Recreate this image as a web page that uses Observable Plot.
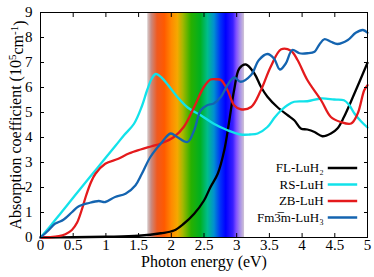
<!DOCTYPE html>
<html><head><meta charset="utf-8">
<script src="https://cdn.jsdelivr.net/npm/d3@7"></script>
<script src="https://cdn.jsdelivr.net/npm/@observablehq/plot@0.6"></script>
<style>
html,body{margin:0;padding:0;background:#fff;}
#chart svg, #chart svg text { font-family: "Liberation Serif", "DejaVu Serif", serif !important; }
</style>
</head><body><div id="chart"></div>
<script>
// ---- data ----
const seriesNames = ["FL-LuH\u2082", "RS-LuH", "ZB-LuH", "Fm3\u0305m-LuH\u2083"];
const seriesColors = ["#000000", "#12e2ea", "#e41a1c", "#1464b0"];

const flE = [0, 0.5, 1.0, 1.5, 1.84, 2.04, 2.19, 2.35, 2.50, 2.60, 2.71, 2.81, 2.88, 2.96, 3.04, 3.14, 3.27, 3.37, 3.47, 3.62, 3.78, 3.88, 3.98, 4.08, 4.19, 4.31, 4.44, 4.54, 4.64, 4.80, 5.0];
const flA = [0, 0.01, 0.03, 0.07, 0.17, 0.28, 0.55, 0.95, 1.48, 2.02, 2.55, 3.49, 4.56, 5.89, 6.76, 6.92, 6.56, 6.03, 5.63, 5.22, 4.89, 4.69, 4.36, 4.32, 4.22, 4.05, 4.16, 4.36, 4.82, 5.76, 6.99];

const rsE = [0, 0.1, 0.2, 0.3, 0.41, 0.61, 0.8, 0.99, 1.15, 1.28, 1.43, 1.55, 1.63, 1.70, 1.76, 1.85, 1.95, 2.09, 2.25, 2.45, 2.65, 2.86, 3.06, 3.2, 3.32, 3.47, 3.58, 3.68, 3.78, 3.88, 4.08, 4.29, 4.49, 4.64, 4.72, 4.80, 4.9, 5.0];
const rsA = [0, 0.3, 0.62, 0.94, 1.3, 1.95, 2.56, 3.17, 3.68, 4.1, 4.55, 5.25, 5.89, 6.35, 6.54, 6.4, 6.1, 5.63, 5.2, 4.89, 4.55, 4.29, 4.12, 4.12, 4.16, 4.42, 4.8, 5.09, 5.3, 5.43, 5.45, 5.56, 5.52, 5.49, 5.3, 4.96, 4.65, 4.40];

const zbE = [0, 0.15, 0.28, 0.38, 0.48, 0.56, 0.63, 0.70, 0.77, 0.84, 0.99, 1.19, 1.35, 1.53, 1.70, 1.84, 2.04, 2.19, 2.35, 2.50, 2.60, 2.68, 2.76, 2.86, 2.96, 3.06, 3.22, 3.37, 3.52, 3.68, 3.83, 3.93, 4.08, 4.29, 4.44, 4.59, 4.75, 4.85, 4.95, 5.0];
const zbA = [0, 0.01, 0.05, 0.13, 0.3, 0.6, 1.1, 1.7, 2.2, 2.55, 2.95, 3.15, 3.36, 3.52, 3.65, 3.76, 4.02, 4.42, 5.22, 6.03, 6.32, 6.33, 6.30, 5.89, 5.29, 5.13, 5.22, 5.89, 6.83, 7.53, 7.47, 7.10, 6.30, 5.49, 4.82, 4.62, 4.56, 4.96, 5.89, 6.09];

const fmE = [0, 0.12, 0.22, 0.28, 0.35, 0.48, 0.58, 0.74, 0.89, 0.99, 1.14, 1.30, 1.45, 1.55, 1.68, 1.84, 1.99, 2.09, 2.25, 2.35, 2.45, 2.55, 2.65, 2.76, 2.86, 2.96, 3.06, 3.22, 3.34, 3.47, 3.57, 3.66, 3.75, 3.85, 3.96, 4.08, 4.19, 4.26, 4.34, 4.44, 4.54, 4.70, 4.82, 4.93, 5.0];
const fmA = [0, 0.28, 0.55, 0.62, 0.71, 1.01, 1.24, 1.38, 1.46, 1.42, 1.62, 1.75, 2.08, 2.55, 3.22, 3.76, 4.16, 4.02, 3.82, 4.29, 5.09, 5.29, 5.36, 5.63, 6.1, 6.40, 6.23, 6.5, 7.10, 7.34, 7.16, 6.72, 6.96, 7.50, 7.37, 7.37, 7.43, 7.70, 7.93, 7.83, 7.74, 7.90, 8.19, 8.30, 8.19];

const xTicks = [0, 0.5, 1, 1.5, 2, 2.5, 3, 3.5, 4, 4.5, 5];
const yTicks = [0, 1, 2, 3, 4, 5, 6, 7, 8, 9];

// visible-spectrum band
const bandE = [1.64, 1.70, 1.79, 1.90, 2.01, 2.10, 2.18, 2.31, 2.45, 2.56, 2.66, 2.76, 2.84, 2.95, 3.00, 3.06, 3.12];
const bandColors = ["#d8cccc", "#c88a80", "#f05a20", "#ff5a00", "#ff8a00", "#f5a800", "#a8b800", "#28b000", "#00b020", "#00bc8c", "#0090d0", "#0030f8", "#0000ff", "#3a20ff", "#8050ff", "#a890e8", "#d0c4d4"];

const xLabel = "Photon energy (eV)";
const yLabel = "Absorption coefficient (105cm-1)";

// ---- build ----
const allE = [flE, rsE, zbE, fmE];
const allA = [flA, rsA, zbA, fmA];
const rows = [];
seriesNames.forEach((name, s) => {
  allE[s].forEach((e, i) => rows.push({name, e, a: allA[s][i]}));
});
const legendY = seriesNames.map((d, i) => 2.78 - i * 0.66);
const b0 = bandE[0], b1 = bandE[bandE.length - 1];

function gradientDefs() {
  const ns = "http://www.w3.org/2000/svg";
  const defs = document.createElementNS(ns, "defs");
  const g = document.createElementNS(ns, "linearGradient");
  g.setAttribute("id", "spectrum");
  g.setAttribute("x1", "0"); g.setAttribute("x2", "1");
  g.setAttribute("y1", "0"); g.setAttribute("y2", "0");
  bandE.forEach((e, i) => {
    const st = document.createElementNS(ns, "stop");
    st.setAttribute("offset", ((e - b0) / (b1 - b0)).toFixed(4));
    st.setAttribute("stop-color", bandColors[i]);
    g.appendChild(st);
  });
  defs.appendChild(g);
  return defs;
}

const chart = Plot.plot({
  width: 374, height: 277,
  marginLeft: 40, marginRight: 7, marginTop: 12, marginBottom: 40,
  style: {fontFamily: "Liberation Serif", fontSize: "15px", color: "black", background: "white"},
  x: {domain: [0, 5]},
  y: {domain: [0, 9]},
  color: {domain: seriesNames, range: seriesColors},
  marks: [
    gradientDefs,
    Plot.rect([[b0, b1]], {x1: d => d[0], x2: d => d[1], y1: 0, y2: 9, fill: "url(#spectrum)"}),
    Plot.line(rows, {x: "e", y: "a", z: "name", stroke: "name", strokeWidth: 2.3, curve: "catmull-rom"}),
    Plot.text(seriesNames, {x: 4.33, y: (d, i) => legendY[i], text: d => d, textAnchor: "end", fontSize: 13}),
    Plot.ruleY(seriesNames, {y: (d, i) => legendY[i], x1: 4.40, x2: 4.85, stroke: d => d, strokeWidth: 2.5}),
    Plot.axisX(xTicks, {anchor: "bottom", tickSize: -4, tickPadding: 6, tickFormat: d => String(d), label: null}),
    Plot.axisX(xTicks, {anchor: "top", tickSize: -4, tickFormat: () => "", label: null}),
    Plot.axisY(yTicks, {anchor: "left", tickSize: -4, tickPadding: 12, tickFormat: d => String(d), label: null}),
    Plot.axisY(yTicks, {anchor: "right", tickSize: -4, tickFormat: () => "", label: null}),
    Plot.frame({stroke: "black", strokeWidth: 1}),
    Plot.text([xLabel], {frameAnchor: "bottom", lineAnchor: "middle", textAnchor: "middle", dy: 24, text: d => d, fontSize: 16}),
    Plot.text([yLabel], {frameAnchor: "left", lineAnchor: "middle", textAnchor: "middle", dx: -25, rotate: -90, text: d => d, fontSize: 16})
  ]
});
document.getElementById("chart").appendChild(chart);

// superscripts fix-up
const NS = "http://www.w3.org/2000/svg";
function ts(txt, attrs) {
  const t = document.createElementNS(NS, "tspan");
  t.textContent = txt;
  for (const k in attrs) t.setAttribute(k, attrs[k]);
  return t;
}
for (const t of chart.querySelectorAll("text")) {
  if (t.textContent === yLabel) {
    t.textContent = "";
    t.appendChild(ts("Absorption coefficient (10", {}));
    t.appendChild(ts("5", {dy: "-0.45em", "font-size": "11"}));
    t.appendChild(ts("cm", {dy: "0.45em"}));
    t.appendChild(ts("-1", {dy: "-0.45em", "font-size": "11"}));
    t.appendChild(ts(")", {dy: "0.45em"}));
  }
}
</script></body></html>
